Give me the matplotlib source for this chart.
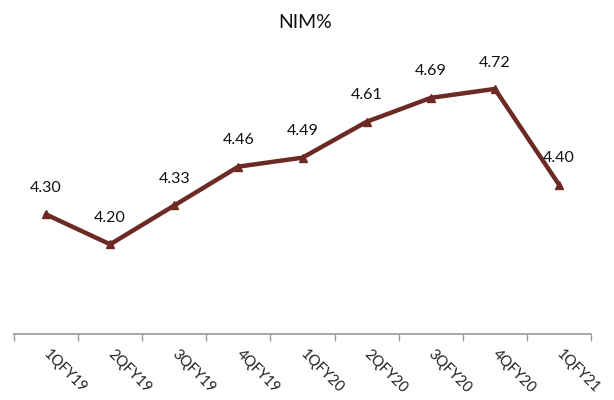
import numpy as np
import matplotlib.pyplot as plt

quarters = ['1QFY19', '2QFY19', '3QFY19', '4QFY19', '1QFY20',
            '2QFY20', '3QFY20', '4QFY20', '1QFY21']
nim = [4.30, 4.20, 4.33, 4.46, 4.49, 4.61, 4.69, 4.72, 4.40]

plt.rcParams['font.family'] = ['Lato', 'DejaVu Sans']

fig = plt.figure(figsize=(6.14, 4.0), dpi=100)
ax = fig.add_axes([14 / 614, 1 - 334 / 400, 577 / 614, 269 / 400])

x = np.arange(len(quarters))
line_col = '#6B2A24'
ax.plot(x, nim, color=line_col, linewidth=3.2, marker='^', markersize=6,
        markerfacecolor=line_col, markeredgecolor=line_col, solid_joinstyle='miter')

for xi, v in zip(x, nim):
    ax.annotate(f'{v:.2f}', (xi, v), xytext=(0, 19), textcoords='offset points',
                ha='center', va='center', fontsize=11.5, color='#111111')

ax.set_xlim(-0.5, len(quarters) - 0.5)
ax.set_ylim(3.9, 4.8)

# category labels centred, ticks on the boundaries
ax.set_xticks(x)
ax.set_xticklabels(quarters, rotation=-45, ha='left', va='center',
                   rotation_mode='anchor', fontsize=10.5, color='#222222')
ax.tick_params(axis='x', which='major', length=0, pad=13)
ax.set_xticks(np.arange(-0.5, len(quarters)), minor=True)
ax.tick_params(axis='x', which='minor', length=5, width=1, color='#999999', direction='out')

ax.set_yticks([])
for side in ('top', 'right', 'left'):
    ax.spines[side].set_visible(False)
ax.spines['bottom'].set_color('#999999')
ax.spines['bottom'].set_linewidth(1.2)

fig.text(0.497, 1 - 22 / 400, 'NIM%', ha='center', va='center', fontsize=14, color='#111111')

fig.savefig('out.png', dpi=100)
